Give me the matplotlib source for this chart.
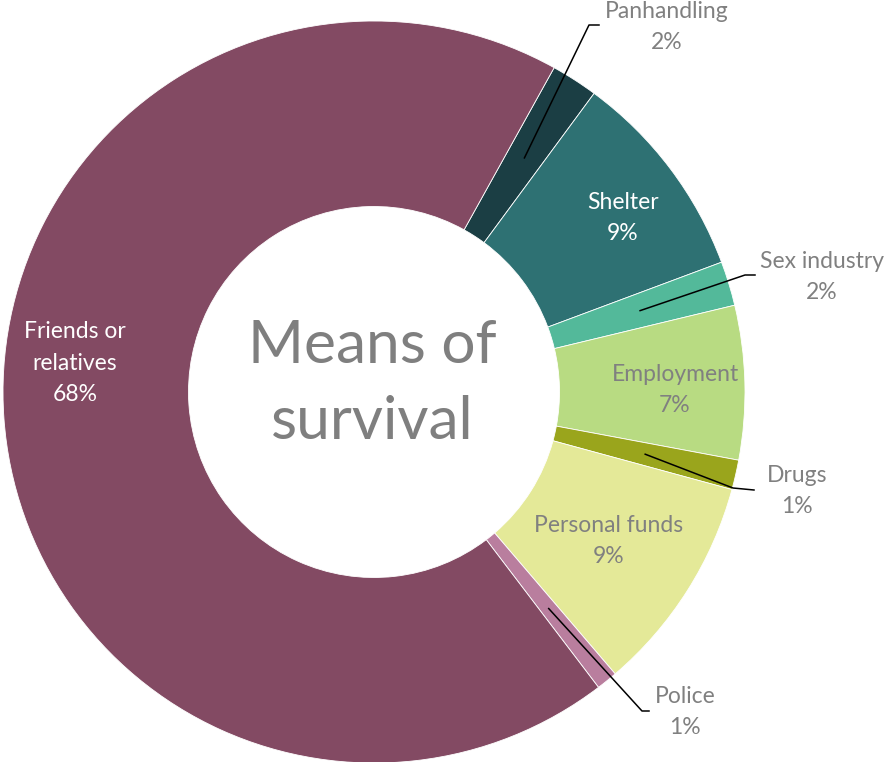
import matplotlib.pyplot as plt
import numpy as np

plt.rcParams['font.family'] = ['Lato', 'DejaVu Sans']

# Share of respondents by main means of survival (clockwise from Panhandling)
categories = ['Panhandling', 'Shelter', 'Sex industry', 'Employment',
              'Drugs', 'Personal funds', 'Police', 'Friends or\nrelatives']
shares = [2.04, 9.2, 1.93, 6.7, 1.29, 9.5, 0.92, 68.4]
pct_labels = ['2%', '9%', '2%', '7%', '1%', '9%', '1%', '68%']
colors = ['#1B3E44', '#2E7173', '#53B99A', '#B8DB82',
          '#9AA51C', '#E4E998', '#B97E9E', '#834A63']

W, H = 886, 762
CX, CY, R = 374, 392, 371


def px(x, y):
    # pixel position -> data coords (pie of radius 1 centred at origin)
    return (x - CX) / R, (CY - y) / R


fig = plt.figure(figsize=(W / 100, H / 100), dpi=100)
ax = fig.add_axes([0, 0, 1, 1])
wedges, _ = ax.pie(shares, colors=colors, startangle=60.95, counterclock=False,
                   radius=1, wedgeprops=dict(width=0.5, edgecolor='white', linewidth=0.6))
x0, y0 = px(0, 0)
x1, y1 = px(W, H)
ax.set_xlim(x0, x1)
ax.set_ylim(y1, y0)
ax.set_aspect('equal')
ax.axis('off')

gray = '#808080'
fs = 16.5
ls = 1.62

# labels inside the ring: (index, text centre in px, colour)
inside = [(1, (623, 218), 'white'), (3, (675, 390), gray),
          (5, (609, 541), gray), (7, (75, 363), 'white')]
for i, pos, c in inside:
    ax.text(*px(*pos), categories[i] + '\n' + pct_labels[i], ha='center', va='center',
            color=c, fontsize=fs, linespacing=ls)

# labels outside with leader lines: (index, elbow px, line end px, text centre px)
outside = [(0, (589, 25), (599, 25), (667, 27)),
           (2, (745, 275), (755, 275), (822, 277)),
           (4, (733, 488), (754, 490), (797, 491)),
           (6, (642, 711), (649, 711), (685, 712))]
for i, elbow, end, pos in outside:
    w = wedges[i]
    mid = np.deg2rad((w.theta1 + w.theta2) / 2)
    sx, sy = 0.75 * np.cos(mid), 0.75 * np.sin(mid)
    ex, ey = px(*elbow)
    tx, ty = px(*end)
    ax.plot([sx, ex, tx], [sy, ey, ty], color='black', lw=1.1)
    ax.text(*px(*pos), categories[i] + '\n' + pct_labels[i], ha='center', va='center',
            color=gray, fontsize=fs, linespacing=ls)

ax.text(*px(372, 384), 'Means of\nsurvival', ha='center', va='center',
        color='#7F7F7F', fontsize=43.5, linespacing=1.5)

fig.savefig('out.png', dpi=100)
